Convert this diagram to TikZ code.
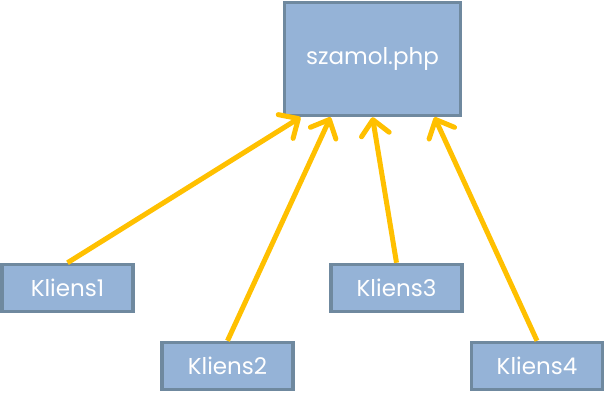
\documentclass[tikz,border=0pt]{standalone}
\usepackage{fontspec}
\setmainfont{Poppins}
\usetikzlibrary{arrows.meta}

\begin{document}
\begin{tikzpicture}[x=1pt, y=-1pt,
  block/.style={rectangle, draw=boxline, line width=3.5pt, fill=boxfill,
                text=white, font=\fontsize{23}{26}\selectfont},
  server/.style={block, minimum width=176pt, minimum height=113pt},
  client/.style={block, minimum width=131pt, minimum height=47pt},
  req/.style={draw=reqline, line width=5pt, -{Straight Barb[length=15pt,width=28pt,round]}}]
  \definecolor{boxfill}{HTML}{95B3D7}
  \definecolor{boxline}{HTML}{6F899F}
  \definecolor{reqline}{HTML}{FFC000}
  \useasboundingbox (0,0) rectangle (605,401);
  \node[server] (szamol) at (372.5,59) {szamol.php};
  \node[client] (k1) at (67.5,288) {Kliens1};
  \node[client] (k2) at (227.5,366) {Kliens2};
  \node[client] (k3) at (396.5,288) {Kliens3};
  \node[client] (k4) at (537,366) {Kliens4};
  \draw[req] (k1.north) -- ([xshift=-72pt]szamol.south);
  \draw[req] (k2.north) -- ([xshift=-42pt]szamol.south);
  \draw[req] (k3.north) -- (szamol.south);
  \draw[req] (k4.north) -- ([xshift=62pt]szamol.south);
\end{tikzpicture}
\end{document}
